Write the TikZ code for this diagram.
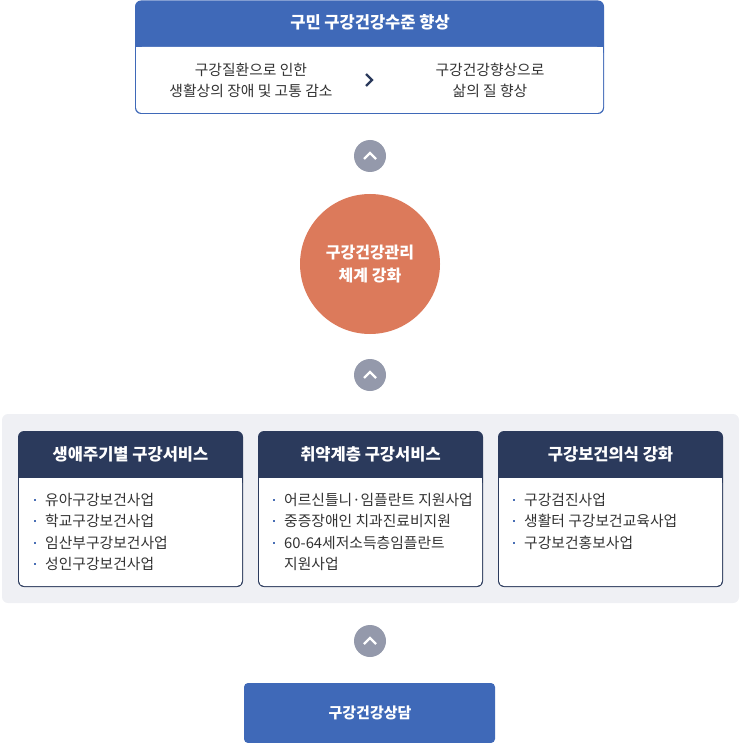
\documentclass[tikz,border=0pt]{standalone}
\usepackage{fontspec}
\newfontfamily\kr{Noto Sans CJK KR}
\definecolor{hblue}{HTML}{3F69B8}
\definecolor{navy}{HTML}{2B3A5C}
\definecolor{chev}{HTML}{9499AB}
\definecolor{orng}{HTML}{DC7A5B}
\definecolor{panel}{HTML}{EFF0F4}
\definecolor{txt}{HTML}{333333}
\definecolor{bul}{HTML}{4A6FB5}
\begin{document}
\begin{tikzpicture}[x=1pt,y=-1pt,
  hdr/.style={font=\kr\fontsize{16.5}{18}\selectfont\bfseries,text=white},
  body/.style={font=\kr\fontsize{14.8}{21}\selectfont,text=txt,align=center},
  item/.style={font=\kr\fontsize{14.8}{16}\selectfont,text=txt,anchor=west,align=left},
  upc/.style={circle,fill=chev,minimum size=32pt,inner sep=0pt}]
\useasboundingbox (0,0) rectangle (740,743);
% top box
\path[fill=hblue,rounded corners=6pt] (135,0.5) rectangle (604,114);
\path[fill=white,rounded corners=6pt] (136,47) rectangle (603,113);
\fill[white] (136,47) rectangle (603,60);
\node[hdr] (top) at (370,22) {구민 구강건강수준 향상};
\node[body] (tl) at (251,80) {구강질환으로 인한\\생활상의 장애 및 고통 감소};
\node[body] (tr) at (490,80) {구강건강향상으로\\삶의 질 향상};
\draw[navy,line width=2.3pt] (366,74) -- (372,80) -- (366,86);
% chevrons
\foreach \n/\y in {c1/156,c2/375,c3/641}{
  \node[upc] (\n) at (370,\y) {};
  \draw[white,line width=2.3pt] (364,\y+3) -- (370,\y-3) -- (376,\y+3);
}
% circle
\node[circle,fill=orng,minimum size=140pt,inner sep=0pt,text=white,align=center,font=\kr\fontsize{16}{23}\selectfont\bfseries] (mid) at (370,264) {구강건강관리\\체계 강화};
% panel
\path[fill=panel,rounded corners=6pt] (2,414) rectangle (739,603);
\foreach \n/\x/\t in {b1/18/생애주기별 구강서비스,b2/258/취약계층 구강서비스,b3/498/구강보건의식 강화}{
  \path[fill=navy,rounded corners=6pt] (\x,431) rectangle (\x+225,587);
  \path[fill=white,rounded corners=5pt] (\x+1,478) rectangle (\x+224,586);
  \fill[white] (\x+1,478) rectangle (\x+224,490);
  \node[hdr] (\n) at (\x+112.5,454) {\t};
}
\foreach \x/\y/\t [count=\i] in {
 45/500/유아구강보건사업,45/521/학교구강보건사업,45/543/임산부구강보건사업,45/564/성인구강보건사업,
 284/500/어르신틀니·임플란트 지원사업,284/521/중증장애인 치과진료비지원,284/543/60-64세저소득층임플란트,
 524/500/구강검진사업,524/521/생활터 구강보건교육사업,524/543/구강보건홍보사업}{
  \fill[bul] (\x-11.5,\y-1.5) rectangle (\x-9,\y+1);
  \node[item,inner sep=0pt] (it\i) at (\x,\y) {\t};
}
\node[item,inner sep=0pt] (it11) at (284,564) {지원사업};
% bottom
\path[fill=hblue,rounded corners=4pt] (244,683) rectangle (495,743);
\node[text=white,font=\kr\fontsize{15}{16}\selectfont\bfseries] (bot) at (370,713) {구강건강상담};
\end{tikzpicture}
\end{document}
